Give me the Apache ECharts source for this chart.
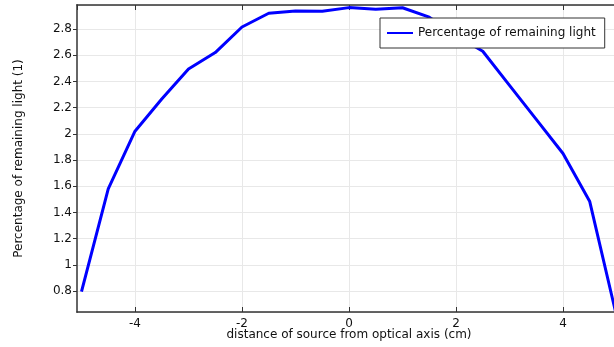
<!DOCTYPE html>
<html>
<head>
<meta charset="utf-8">
<script src="https://cdn.jsdelivr.net/npm/echarts@6/dist/echarts.min.js"></script>
<style>
  html, body { margin: 0; padding: 0; background: #fff; }
  #chart { width: 614px; height: 347px; }
</style>
</head>
<body>
<div id="chart"></div>
<script>
const xValues = [-5, -4.5, -4, -3.5, -3, -2.5, -2, -1.5, -1, -0.5, 0, 0.5, 1, 1.5, 2, 2.5, 3, 3.5, 4, 4.5, 5]
const lightValues = [0.795, 1.58, 2.02, 2.265, 2.495, 2.62, 2.815, 2.92, 2.937, 2.936, 2.963, 2.95, 2.962, 2.89, 2.75, 2.63, 2.37, 2.11, 1.85, 1.483, 0.61]
const seriesName = 'Percentage of remaining light'
const xName = 'distance of source from optical axis (cm)'
const yName = 'Percentage of remaining light (1)'

const chart = echarts.init(document.getElementById('chart'))
const font = 'DejaVu Sans'

const option = {
  animation: false,
  textStyle: { fontFamily: font },
  grid: { left: 77, top: 5, right: -7, bottom: 35, outerBoundsMode: 'none', containLabel: false },
  legend: {
    data: [{ name: seriesName, icon: 'rect' }],
    left: 380,
    top: 18,
    padding: [8, 9, 8, 7],
    itemWidth: 26,
    itemHeight: 2,
    itemGap: 6,
    borderColor: '#333',
    borderWidth: 1,
    backgroundColor: '#fff',
    textStyle: { fontFamily: font, fontSize: 12, color: '#111', lineHeight: 14 }
  },
  xAxis: [
    {
      type: 'value',
      min: -5.084,
      max: 5.084,
      splitNumber: 5,
      name: xName,
      nameLocation: 'middle',
      nameGap: 17,
      nameMoveOverlap: false,
      nameTextStyle: { fontFamily: font, fontSize: 12, color: '#111' },
      axisLine: { show: true, onZero: false, lineStyle: { color: '#333', width: 1.5 } },
      axisTick: { show: true, inside: true, length: 5, lineStyle: { color: '#333' } },
      axisLabel: { showMinLabel: false, showMaxLabel: false, margin: 6, fontSize: 12, color: '#111' },
      splitLine: { show: true, lineStyle: { color: '#e8e8e8', width: 1 } }
    },
    {
      type: 'value',
      position: 'top',
      min: -5.084,
      max: 5.084,
      splitNumber: 5,
      axisLine: { show: true, onZero: false, lineStyle: { color: '#333', width: 1.5 } },
      axisTick: { show: true, inside: true, length: 5, lineStyle: { color: '#333' } },
      axisLabel: { show: false },
      splitLine: { show: false }
    }
  ],
  yAxis: {
    type: 'value',
    min: 0.64,
    max: 2.983,
    splitNumber: 11,
    name: yName,
    nameLocation: 'middle',
    nameGap: 52,
    nameMoveOverlap: false,
    nameTextStyle: { fontFamily: font, fontSize: 12, color: '#111' },
    axisLine: { show: true, onZero: false, lineStyle: { color: '#666', width: 2 } },
    axisTick: { show: true, inside: false, length: 4, lineStyle: { color: '#333' } },
    axisLabel: { showMinLabel: false, showMaxLabel: false, margin: 5, fontSize: 12, color: '#111' },
    splitLine: { show: true, lineStyle: { color: '#e8e8e8', width: 1 } }
  },
  series: [
    {
      name: seriesName,
      type: 'line',
      data: xValues.map((x, i) => [x, lightValues[i]]),
      symbol: 'none',
      lineStyle: { color: '#0000ff', width: 3 },
      itemStyle: { color: '#0000ff' }
    }
  ]
}

chart.setOption(option)
</script>
</body>
</html>
